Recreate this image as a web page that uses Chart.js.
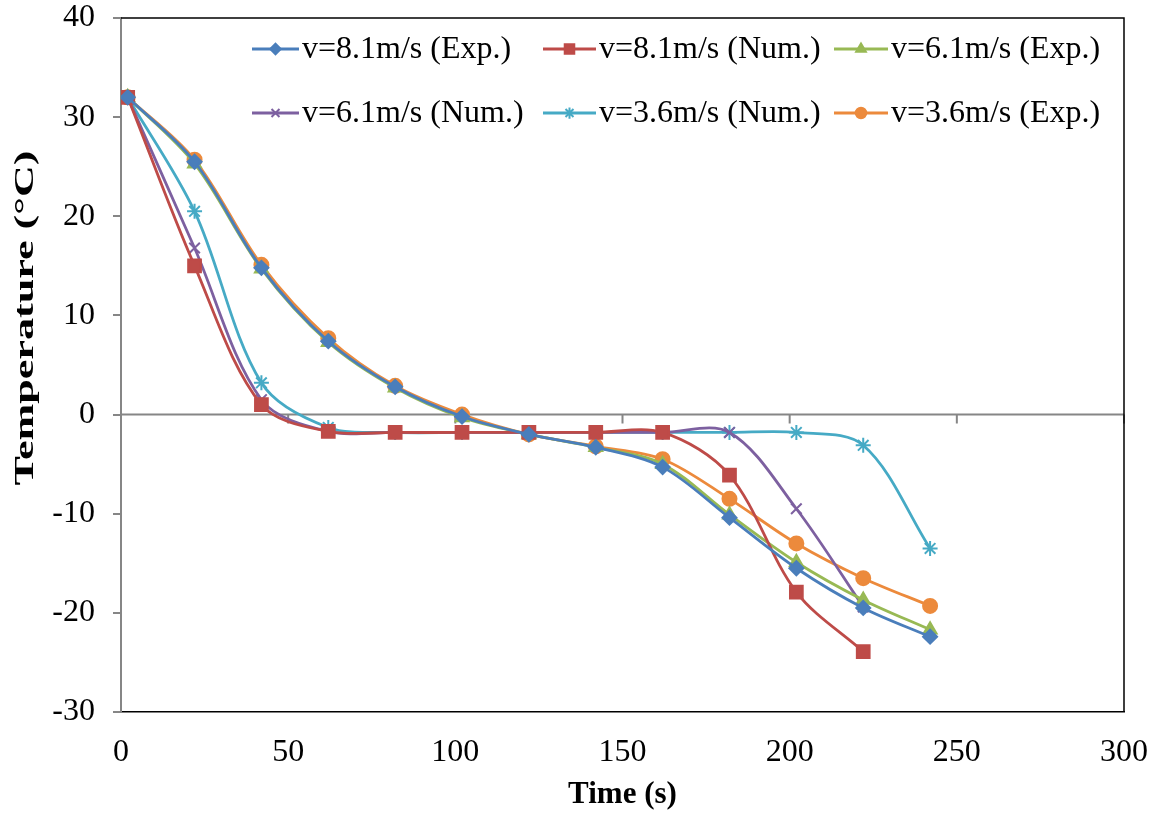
<!DOCTYPE html>
<html>
<head>
<meta charset="utf-8">
<script src="https://cdn.jsdelivr.net/npm/chart.js@4.4.0/dist/chart.umd.min.js"></script>
<style>
  html, body { margin: 0; padding: 0; background: #fff; }
  #wrap { width: 1162px; height: 814px; }
</style>
</head>
<body>
<div id="wrap"><canvas id="chart"></canvas></div>
<script>
// time (s)
const timeS = [2, 22, 42, 62, 82, 102, 122, 142, 162, 182, 202, 222, 242]

// temperatures (°C)
const exp81 = [32, 25.5, 14.8, 7.4, 2.8, -0.2, -2.0, -3.3, -5.3, -10.4, -15.5, -19.5, -22.4]
const num81 = [32, 15.0, 1.0, -1.7, -1.8, -1.8, -1.8, -1.8, -1.8, -6.1, -17.9, -23.9]
const exp61 = [32, 25.3, 14.7, 7.3, 2.7, -0.3, -2.0, -3.3, -5.0, -10.1, -14.9, -18.7, -21.7]
const num61 = [32, 16.8, 1.5, -1.7, -1.8, -1.8, -1.8, -1.8, -1.8, -1.8, -9.5, -19.4]
const num36 = [32, 20.5, 3.2, -1.3, -1.8, -1.8, -1.8, -1.8, -1.8, -1.8, -1.8, -3.1, -13.5]
const exp36 = [32, 25.7, 15.1, 7.7, 2.9, 0.0, -2.0, -3.2, -4.5, -8.5, -13.0, -16.5, -19.3]

const seriesLabels = [
    'v=8.1m/s (Exp.)', 'v=8.1m/s (Num.)', 'v=6.1m/s (Exp.)',
    'v=6.1m/s (Num.)', 'v=3.6m/s (Num.)', 'v=3.6m/s (Exp.)'
]
const seriesValues = [exp81, num81, exp61, num61, num36, exp36]
const seriesColors = ['#4A7EBB', '#BE4B48', '#98B954', '#7D60A0', '#46AAC5', '#EC8A3C']
const seriesMarkers = [
    { style: 'rectRot', radius: 7 },
    { style: 'rect', radius: 9 },
    { style: 'triangle', radius: 7.5 },
    { style: 'crossRot', radius: 7.5 },
    { style: 'star', radius: 7.5 },
    { style: 'circle', radius: 7 }
]

const FONT = "'Liberation Serif', 'Times New Roman', serif"
const AXIS_GRAY = '#868686'

const datasets = seriesLabels.map((label, i) => ({
    label: label,
    data: seriesValues[i].map((v, j) => ({ x: timeS[j], y: v })),
    borderColor: seriesColors[i],
    backgroundColor: seriesColors[i],
    borderWidth: 2.8,
    tension: 0.33,
    pointStyle: seriesMarkers[i].style,
    pointRadius: seriesMarkers[i].radius,
    pointBorderWidth: 2,
    pointBorderColor: seriesColors[i],
    pointBackgroundColor: seriesColors[i],
    fill: false
}))

// zero line with tick marks, black frame on top/right, y title
const axisDecor = {
    id: 'axisDecor',
    beforeDatasetsDraw(chart) {
        const { ctx, chartArea, scales } = chart
        const y0 = scales.y.getPixelForValue(0)
        ctx.save()
        ctx.strokeStyle = AXIS_GRAY
        ctx.lineWidth = 2
        ctx.beginPath()
        ctx.moveTo(chartArea.left, y0)
        ctx.lineTo(chartArea.right, y0)
        scales.x.ticks.forEach(t => {
            if (t.value === 0) return
            const px = scales.x.getPixelForValue(t.value)
            ctx.moveTo(px, y0)
            ctx.lineTo(px, y0 + 9)
        })
        ctx.stroke()
        ctx.strokeStyle = '#000'
        ctx.lineWidth = 1.5
        ctx.beginPath()
        ctx.moveTo(chartArea.left, chartArea.top)
        ctx.lineTo(chartArea.right, chartArea.top)
        ctx.lineTo(chartArea.right, chartArea.bottom)
        ctx.stroke()

        // y axis title, stretched along its length like the original
        ctx.font = 'bold 28px ' + FONT
        ctx.fillStyle = '#000'
        ctx.textAlign = 'center'
        ctx.textBaseline = 'middle'
        const title = 'Temperature (°C)'
        const stretch = 335 / ctx.measureText(title).width
        ctx.translate(26, 318)
        ctx.rotate(-Math.PI / 2)
        ctx.scale(stretch, 1)
        ctx.fillText(title, 0, 0)
        ctx.restore()
    }
}

// two-row legend inside the plot, line + marker + text
const gridLegend = {
    id: 'gridLegend',
    afterDatasetsDraw(chart) {
        const { ctx } = chart
        const lineX = [252, 543, 834]
        const textX = [302, 599, 891]
        const rowY = [49, 113]
        ctx.save()
        ctx.font = '32px ' + FONT
        ctx.textBaseline = 'middle'
        chart.data.datasets.forEach((ds, i) => {
            const c = i % 3
            const y = rowY[Math.floor(i / 3)]
            const x1 = lineX[c]
            const x2 = textX[c] - 3
            ctx.strokeStyle = ds.borderColor
            ctx.lineWidth = 2.8
            ctx.beginPath()
            ctx.moveTo(x1, y)
            ctx.lineTo(x2, y)
            ctx.stroke()
            ctx.fillStyle = ds.borderColor
            ctx.lineWidth = 2
            Chart.helpers.drawPoint(ctx, {
                pointStyle: ds.pointStyle,
                radius: ds.pointRadius * 0.75,
                rotation: 0,
                borderWidth: 2
            }, (x1 + x2) / 2, y)
            ctx.fillStyle = '#000'
            ctx.fillText(ds.label, textX[c], y + 1)
        })
        ctx.restore()
    }
}

new Chart(document.getElementById('chart').getContext('2d'), {
    type: 'line',
    data: { datasets: datasets },
    plugins: [axisDecor, gridLegend],
    options: {
        responsive: true,
        maintainAspectRatio: false,
        animation: false,
        layout: { padding: { top: 18, right: 38, left: 0, bottom: 0 } },
        plugins: {
            legend: { display: false },
            tooltip: { enabled: false }
        },
        scales: {
            x: {
                type: 'linear',
                min: 0,
                max: 300,
                afterFit: (scale) => {
                    scale.height = 102
                    scale.paddingLeft = 0
                    scale.paddingRight = 0
                },
                ticks: {
                    stepSize: 50,
                    color: '#000',
                    font: { family: FONT, size: 32 },
                    padding: 21,
                    maxRotation: 0
                },
                grid: { display: true, drawOnChartArea: false, drawTicks: false, color: 'rgba(0,0,0,0)' },
                border: { display: true, color: '#000', width: 1.5 },
                title: {
                    display: true,
                    text: 'Time (s)',
                    color: '#000',
                    font: { family: FONT, size: 31, weight: 'bold' },
                    padding: { top: 0, bottom: 0 }
                }
            },
            y: {
                type: 'linear',
                min: -30,
                max: 40,
                afterFit: (scale) => {
                    scale.width = 121
                    scale.paddingTop = 0
                    scale.paddingBottom = 0
                },
                ticks: {
                    stepSize: 10,
                    color: '#000',
                    font: { family: FONT, size: 32 },
                    padding: 18
                },
                grid: {
                    drawOnChartArea: false,
                    tickLength: 8,
                    tickColor: AXIS_GRAY,
                    lineWidth: 2
                },
                border: { display: true, color: AXIS_GRAY, width: 2 },
                title: { display: false }
            }
        }
    }
})
</script>
</body>
</html>
